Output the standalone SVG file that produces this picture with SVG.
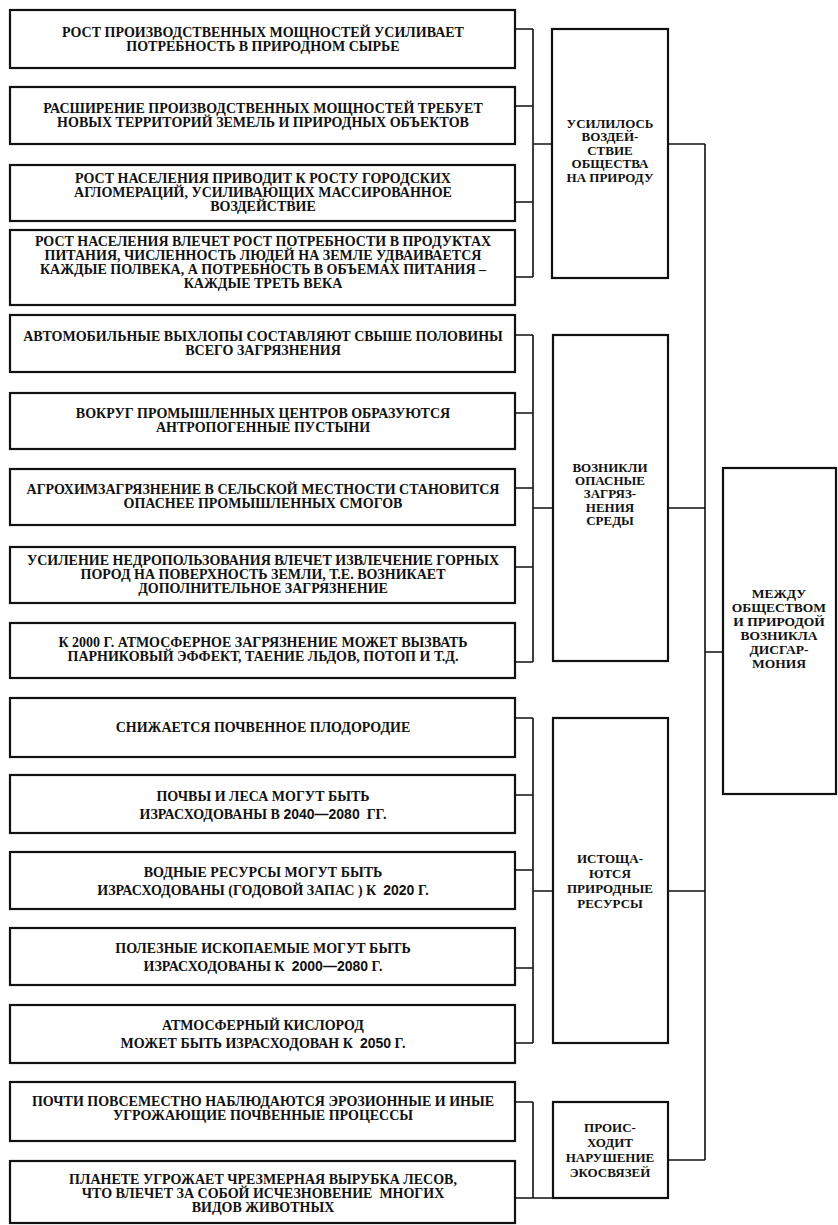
<svg xmlns="http://www.w3.org/2000/svg" width="838" height="1225" viewBox="0 0 838 1225">
  <style>
    .box { fill: #fff; stroke: #111; stroke-width: 2.2; }
    .wire { fill: none; stroke: #111; stroke-width: 1.6; }
    text { font-family: "Liberation Serif", "DejaVu Serif", serif; font-weight: bold; font-size: 14px; fill: #111; text-anchor: middle; }
    .num { font-family: "Liberation Sans", "DejaVu Sans", sans-serif; font-size: 14px; }
    .mid { font-size: 13px; }
    .end { font-size: 13.5px; }
  </style>
  <rect width="838" height="1225" fill="#fff"/>

  <!-- connectors -->
  <g id="connectors" class="wire">
    <!-- group 1 bracket -->
    <path d="M515 29H533M515 106H533M515 202H533M515 277H533M533 29V277M533 144H552"/>
    <!-- group 2 bracket -->
    <path d="M515 335H533M515 413H533M515 488H533M515 567H533M515 662H533M533 335V662M533 508H553"/>
    <!-- group 3 bracket -->
    <path d="M515 718H533M515 795H533M515 870H533M515 968H533M515 1043H533M533 718V1043M533 891H553"/>
    <!-- group 4 bracket -->
    <path d="M515 1102H533M515 1198H553M533 1102V1198"/>
    <!-- collector to the final block -->
    <path d="M668 144H705M668 508H705M668 891H705M668 1160H705M705 144V1160M705 652H723"/>
  </g>

  <!-- left column: causes -->
  <g id="n1"><rect class="box" x="10" y="10" width="505" height="58"/>
    <text x="263" y="37">РОСТ ПРОИЗВОДСТВЕННЫХ МОЩНОСТЕЙ УСИЛИВАЕТ</text>
    <text x="263" y="51">ПОТРЕБНОСТЬ В ПРИРОДНОМ СЫРЬЕ</text></g>
  <g id="n2"><rect class="box" x="10" y="87" width="505" height="57"/>
    <text x="263" y="113">РАСШИРЕНИЕ ПРОИЗВОДСТВЕННЫХ МОЩНОСТЕЙ ТРЕБУЕТ</text>
    <text x="263" y="127">НОВЫХ ТЕРРИТОРИЙ ЗЕМЕЛЬ И ПРИРОДНЫХ ОБЪЕКТОВ</text></g>
  <g id="n3"><rect class="box" x="10" y="165" width="505" height="56"/>
    <text x="263" y="183">РОСТ НАСЕЛЕНИЯ ПРИВОДИТ К РОСТУ ГОРОДСКИХ</text>
    <text x="263" y="197">АГЛОМЕРАЦИЙ, УСИЛИВАЮЩИХ МАССИРОВАННОЕ</text>
    <text x="263" y="211">ВОЗДЕЙСТВИЕ</text></g>
  <g id="n4"><rect class="box" x="10" y="230" width="505" height="75"/>
    <text x="263" y="246">РОСТ НАСЕЛЕНИЯ ВЛЕЧЕТ РОСТ ПОТРЕБНОСТИ В ПРОДУКТАХ</text>
    <text x="263" y="260">ПИТАНИЯ, ЧИСЛЕННОСТЬ ЛЮДЕЙ НА ЗЕМЛЕ УДВАИВАЕТСЯ</text>
    <text x="263" y="274">КАЖДЫЕ ПОЛВЕКА, А ПОТРЕБНОСТЬ В ОБЪЕМАХ ПИТАНИЯ –</text>
    <text x="263" y="288">КАЖДЫЕ ТРЕТЬ ВЕКА</text></g>
  <g id="n5"><rect class="box" x="10" y="315" width="505" height="57"/>
    <text x="263" y="341">АВТОМОБИЛЬНЫЕ ВЫХЛОПЫ СОСТАВЛЯЮТ СВЫШЕ ПОЛОВИНЫ</text>
    <text x="263" y="355">ВСЕГО ЗАГРЯЗНЕНИЯ</text></g>
  <g id="n6"><rect class="box" x="10" y="393" width="505" height="56"/>
    <text x="263" y="418">ВОКРУГ ПРОМЫШЛЕННЫХ ЦЕНТРОВ ОБРАЗУЮТСЯ</text>
    <text x="263" y="432">АНТРОПОГЕННЫЕ ПУСТЫНИ</text></g>
  <g id="n7"><rect class="box" x="10" y="469" width="505" height="56"/>
    <text x="263" y="494">АГРОХИМЗАГРЯЗНЕНИЕ В СЕЛЬСКОЙ МЕСТНОСТИ СТАНОВИТСЯ</text>
    <text x="263" y="508">ОПАСНЕЕ ПРОМЫШЛЕННЫХ СМОГОВ</text></g>
  <g id="n8"><rect class="box" x="10" y="547" width="505" height="56"/>
    <text x="263" y="565">УСИЛЕНИЕ НЕДРОПОЛЬЗОВАНИЯ ВЛЕЧЕТ ИЗВЛЕЧЕНИЕ ГОРНЫХ</text>
    <text x="263" y="579">ПОРОД НА ПОВЕРХНОСТЬ ЗЕМЛИ, Т.Е. ВОЗНИКАЕТ</text>
    <text x="263" y="593">ДОПОЛНИТЕЛЬНОЕ ЗАГРЯЗНЕНИЕ</text></g>
  <g id="n9"><rect class="box" x="10" y="623" width="505" height="55"/>
    <text x="263" y="647">К 2000 Г. АТМОСФЕРНОЕ ЗАГРЯЗНЕНИЕ МОЖЕТ ВЫЗВАТЬ</text>
    <text x="263" y="661">ПАРНИКОВЫЙ ЭФФЕКТ, ТАЕНИЕ ЛЬДОВ, ПОТОП И Т.Д.</text></g>
  <g id="n10"><rect class="box" x="10" y="698" width="505" height="59"/>
    <text x="263" y="732">СНИЖАЕТСЯ ПОЧВЕННОЕ ПЛОДОРОДИЕ</text></g>
  <g id="n11"><rect class="box" x="10" y="775" width="505" height="58"/>
    <text x="263" y="801">ПОЧВЫ И ЛЕСА МОГУТ БЫТЬ</text>
    <text x="263" y="819" xml:space="preserve">ИЗРАСХОДОВАНЫ В <tspan class="num">2040—2080</tspan>  ГГ.</text></g>
  <g id="n12"><rect class="box" x="10" y="852" width="505" height="57"/>
    <text x="263" y="877">ВОДНЫЕ РЕСУРСЫ МОГУТ БЫТЬ</text>
    <text x="263" y="895" xml:space="preserve">ИЗРАСХОДОВАНЫ (ГОДОВОЙ ЗАПАС ) К  <tspan class="num">2020</tspan> Г.</text></g>
  <g id="n13"><rect class="box" x="10" y="928" width="505" height="57"/>
    <text x="263" y="953">ПОЛЕЗНЫЕ ИСКОПАЕМЫЕ МОГУТ БЫТЬ</text>
    <text x="263" y="971" xml:space="preserve">ИЗРАСХОДОВАНЫ К  <tspan class="num">2000—2080</tspan> Г.</text></g>
  <g id="n14"><rect class="box" x="10" y="1005" width="505" height="58"/>
    <text x="263" y="1030">АТМОСФЕРНЫЙ КИСЛОРОД</text>
    <text x="263" y="1048" xml:space="preserve">МОЖЕТ БЫТЬ ИЗРАСХОДОВАН К  <tspan class="num">2050</tspan> Г.</text></g>
  <g id="n15"><rect class="box" x="10" y="1082" width="505" height="59"/>
    <text x="263" y="1106">ПОЧТИ ПОВСЕМЕСТНО НАБЛЮДАЮТСЯ ЭРОЗИОННЫЕ И ИНЫЕ</text>
    <text x="263" y="1120">УГРОЖАЮЩИЕ ПОЧВЕННЫЕ ПРОЦЕССЫ</text></g>
  <g id="n16"><rect class="box" x="10" y="1161" width="505" height="62"/>
    <text x="263" y="1184">ПЛАНЕТЕ УГРОЖАЕТ ЧРЕЗМЕРНАЯ ВЫРУБКА ЛЕСОВ,</text>
    <text x="263" y="1198" xml:space="preserve">ЧТО ВЛЕЧЕТ ЗА СОБОЙ ИСЧЕЗНОВЕНИЕ  МНОГИХ</text>
    <text x="263" y="1212">ВИДОВ ЖИВОТНЫХ</text></g>

  <!-- middle column: consequences -->
  <g id="m1"><rect class="box" x="552" y="29" width="116" height="249"/>
    <text class="mid" x="610" y="128">УСИЛИЛОСЬ</text>
    <text class="mid" x="610" y="141">ВОЗДЕЙ-</text>
    <text class="mid" x="610" y="155">СТВИЕ</text>
    <text class="mid" x="610" y="168">ОБЩЕСТВА</text>
    <text class="mid" x="610" y="182">НА ПРИРОДУ</text></g>
  <g id="m2"><rect class="box" x="553" y="335" width="115" height="326"/>
    <text class="mid" x="610" y="472">ВОЗНИКЛИ</text>
    <text class="mid" x="610" y="485">ОПАСНЫЕ</text>
    <text class="mid" x="610" y="498">ЗАГРЯЗ-</text>
    <text class="mid" x="610" y="512">НЕНИЯ</text>
    <text class="mid" x="610" y="525">СРЕДЫ</text></g>
  <g id="m3"><rect class="box" x="553" y="718" width="115" height="325"/>
    <text class="mid" x="610" y="863">ИСТОЩА-</text>
    <text class="mid" x="610" y="878">ЮТСЯ</text>
    <text class="mid" x="610" y="893">ПРИРОДНЫЕ</text>
    <text class="mid" x="610" y="908">РЕСУРСЫ</text></g>
  <g id="m4"><rect class="box" x="553" y="1102" width="115" height="96"/>
    <text class="mid" x="610" y="1132">ПРОИС-</text>
    <text class="mid" x="610" y="1147">ХОДИТ</text>
    <text class="mid" x="610" y="1162">НАРУШЕНИЕ</text>
    <text class="mid" x="610" y="1177">ЭКОСВЯЗЕЙ</text></g>

  <!-- right column: conclusion -->
  <g id="r1"><rect class="box" x="723" y="468" width="113" height="326"/>
    <text class="end" x="779" y="598">МЕЖДУ</text>
    <text class="end" x="779" y="612">ОБЩЕСТВОМ</text>
    <text class="end" x="779" y="626">И ПРИРОДОЙ</text>
    <text class="end" x="779" y="640">ВОЗНИКЛА</text>
    <text class="end" x="779" y="654">ДИСГАР-</text>
    <text class="end" x="779" y="668">МОНИЯ</text></g>
</svg>
